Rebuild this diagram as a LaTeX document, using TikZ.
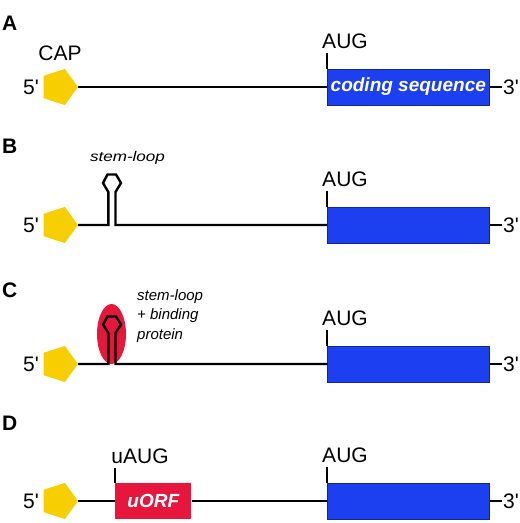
\documentclass[tikz,border=0pt]{standalone}
\usepackage{fontspec}
\setmainfont{Liberation Sans}[Ligatures=TeXOff]
\usetikzlibrary{shapes.geometric}
\definecolor{capyellow}{RGB}{247,206,0}
\definecolor{cdsblue}{RGB}{28,64,240}
\definecolor{cdsedge}{RGB}{20,40,140}
\definecolor{orfred}{RGB}{230,22,60}
\definecolor{protred}{RGB}{228,24,58}
\begin{document}
\begin{tikzpicture}[x=1pt,y=-1pt,
  big/.style={font=\fontsize{21}{25}\selectfont, inner sep=0pt},
  panel/.style={font=\fontsize{21}{25}\selectfont\bfseries, inner sep=0pt, anchor=base west},
  capshape/.style={regular polygon, regular polygon sides=5, shape border rotate=270, minimum size=38pt, inner sep=0pt, fill=capyellow, draw=none},
  cds/.style={rectangle, minimum width=162pt, minimum height=36pt, inner sep=0pt, fill=cdsblue, draw=cdsedge, line width=0.6pt, anchor=west, text=white, font=\fontsize{19}{22}\selectfont\bfseries\itshape},
  orf/.style={cds, minimum width=76pt, fill=orfred, draw=none},
  note/.style={font=\fontsize{15}{19.5}\selectfont\itshape, inner sep=0pt},
  rna/.style={line width=2.4pt, line join=miter},
  tickline/.style={line width=2pt},
  prot/.style={ellipse, minimum width=29pt, minimum height=60pt, inner sep=0pt, fill=protred, draw=none}
]
\useasboundingbox (0,0) rectangle (520,523);

% ---------- A ----------
\node[panel] (lA) at (2,30) {A};
\node[capshape] (capA) at (59,87) {};
\node[big, anchor=base] (capL) at (60,60) {CAP};
\node[big, anchor=base east] (fiveA) at (39,94.5) {5'};
\node[cds] (cdsA) at (327,87) {coding sequence};
\node[big, anchor=base west] (threeA) at (503,94.5) {3'};
\node[big, anchor=base] (augA) at (345,48) {AUG};
\coordinate (tA) at (327,53);
\draw[rna] (capA.east) -- (cdsA.west);
\draw[rna, shorten >=1.5pt] (cdsA.east) -- (cdsA.east -| threeA.west);
\draw[tickline] (cdsA.north west) -- (tA);

% ---------- B ----------
\node[panel] (lB) at (2,153) {B};
\node[capshape] (capB) at (59,225) {};
\node[big, anchor=base east] (fiveB) at (39,232.5) {5'};
\node[cds] (cdsB) at (327,225) {};
\node[big, anchor=base west] (threeB) at (503,232.5) {3'};
\node[big, anchor=base] (augB) at (345,186) {AUG};
\coordinate (tB) at (327,191);
\node[note, font=\fontsize{14}{17}\selectfont\itshape, anchor=base] (slB) at (127.5,161) {\scalebox{1.22}[1]{stem-loop}};
\draw[rna] (capB.east) -- (108.3,225) -- ++(0,-33) -- ++(-5.3,-9) -- ++(4.5,-8.5) -- ++(8.5,0) -- ++(5,8.5) -- ++(-5.5,9) -- ++(0,33) -- (cdsB.west);
\draw[rna, shorten >=1.5pt] (cdsB.east) -- (cdsB.east -| threeB.west);
\draw[tickline] (cdsB.north west) -- (tB);

% ---------- C ----------
\node[panel] (lC) at (2,297) {C};
\node[capshape] (capC) at (59,364) {};
\node[big, anchor=base east] (fiveC) at (39,371.5) {5'};
\node[cds] (cdsC) at (327,364) {};
\node[big, anchor=base west] (threeC) at (503,371.5) {3'};
\node[big, anchor=base] (augC) at (345,325) {AUG};
\coordinate (tC) at (327,330);
\node[prot] (protC) at (111.5,334) {};
\node[note, anchor=base west] (slC1) at (137,300) {stem-loop};
\node[note, anchor=base west] (slC2) at (137,319.5) {+ binding};
\node[note, anchor=base west] (slC3) at (137,339) {protein};
\draw[rna] (capC.east) -- (108.3,364) -- ++(0,-31) -- ++(-5.3,-8.5) -- ++(4.5,-8) -- ++(8.5,0) -- ++(5,8) -- ++(-5.5,8.5) -- ++(0,31) -- (cdsC.west);
\draw[rna, shorten >=1.5pt] (cdsC.east) -- (cdsC.east -| threeC.west);
\draw[tickline] (cdsC.north west) -- (tC);

% ---------- D ----------
\node[panel] (lD) at (2,430) {D};
\node[capshape] (capD) at (59,501) {};
\node[big, anchor=base east] (fiveD) at (39,508.5) {5'};
\node[orf, anchor=west] (orfD) at (115,501) {uORF};
\node[cds] (cdsD) at (327,501) {};
\node[big, anchor=base west] (threeD) at (503,508.5) {3'};
\node[big, anchor=base] (uaugD) at (140,463) {uAUG};
\node[big, anchor=base] (augD) at (345,462) {AUG};
\coordinate (tuD) at (115,468);
\coordinate (tD) at (327,467);
\draw[rna] (capD.east) -- (orfD.west);
\draw[rna] (orfD.east) -- (cdsD.west);
\draw[rna, shorten >=1.5pt] (cdsD.east) -- (cdsD.east -| threeD.west);
\draw[tickline] (orfD.north west) -- (tuD);
\draw[tickline] (cdsD.north west) -- (tD);
\end{tikzpicture}
\end{document}
